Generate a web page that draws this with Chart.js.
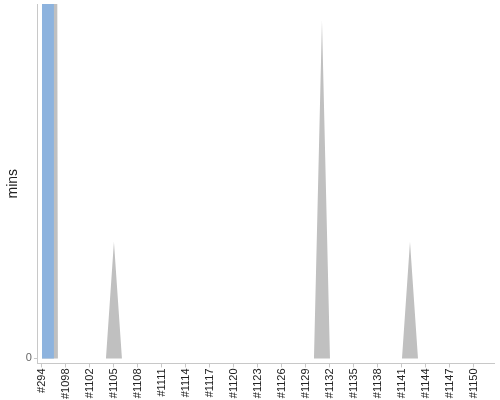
<!DOCTYPE html>
<html>
<head>
<meta charset="utf-8">
<title>mins per build</title>
<script src="https://cdn.jsdelivr.net/npm/chart.js@4.4.0/dist/chart.umd.min.js"></script>
<style>
  html, body { margin: 0; padding: 0; background: #fff; }
  #wrap { width: 500px; height: 400px; }
</style>
</head>
<body>
<div id="wrap"><canvas id="chart"></canvas></div>
<script>
// build ids along the x axis
const builds = [
  '#294', '#1096', '#1097', '#1098', '#1099', '#1101', '#1102', '#1103', '#1104', '#1105',
  '#1106', '#1107', '#1108', '#1109', '#1110', '#1111', '#1112', '#1113', '#1114', '#1115',
  '#1116', '#1117', '#1118', '#1119', '#1120', '#1121', '#1122', '#1123', '#1124', '#1125',
  '#1126', '#1127', '#1128', '#1129', '#1130', '#1131', '#1132', '#1133', '#1134', '#1135',
  '#1136', '#1137', '#1138', '#1139', '#1140', '#1141', '#1142', '#1143', '#1144', '#1145',
  '#1146', '#1147', '#1148', '#1149', '#1150', '#1151', '#1152'
];

// blue series (off the top of the scale for the first build)
const blueMins = [
  40, 40, 0, 0, 0, 0, 0, 0, 0, 0,
  0, 0, 0, 0, 0, 0, 0, 0, 0, 0,
  0, 0, 0, 0, 0, 0, 0, 0, 0, 0,
  0, 0, 0, 0, 0, 0, 0, 0, 0, 0,
  0, 0, 0, 0, 0, 0, 0, 0, 0, 0,
  0, 0, 0, 0, 0, 0, 0
];

// grey series
const greyMins = [
  40, 40, 0, 0, 0, 0, 0, 0, 0, 1,
  0, 0, 0, 0, 0, 0, 0, 0, 0, 0,
  0, 0, 0, 0, 0, 0, 0, 0, 0, 0,
  0, 0, 0, 0, 0, 2.9, 0, 0, 0, 0,
  0, 0, 0, 0, 0, 0, 1, 0, 0, 0,
  0, 0, 0, 0, 0, 0, 0
];

const yMin = -0.043;
const yMax = 3.04;
const yTicks = [0];

const FONT = 'Liberation Sans, Arial, sans-serif';

const ctx = document.getElementById('chart').getContext('2d');

new Chart(ctx, {
  type: 'line',
  data: {
    labels: builds,
    datasets: [
      {
        label: 'blue',
        data: blueMins,
        stepped: 'middle',
        fill: 'origin',
        backgroundColor: '#8db3de',
        borderWidth: 0,
        pointRadius: 0,
      },
      {
        label: 'grey',
        data: greyMins,
        tension: 0,
        fill: 'origin',
        backgroundColor: '#c0c0c0',
        borderWidth: 0,
        pointRadius: 0,
      },
    ],
  },
  options: {
    responsive: true,
    maintainAspectRatio: false,
    animation: false,
    layout: { padding: { top: 4, right: 6, left: 1, bottom: 0 } },
    plugins: {
      legend: { display: false },
      tooltip: { enabled: false },
    },
    scales: {
      x: {
        offset: true,
        afterFit: (scale) => {
          scale.paddingLeft = 0;
          scale.paddingRight = 0;
        },
        grid: {
          offset: false,
          drawOnChartArea: false,
          tickLength: 4,
          color: '#c8c8c8',
        },
        border: { color: '#c8c8c8' },
        ticks: {
          autoSkip: false,
          minRotation: 90,
          maxRotation: 90,
          padding: 1,
          color: '#222',
          font: { family: FONT, size: 11 },
          callback: (value, index) => (index % 3 === 0 ? builds[index] : null),
        },
      },
      y: {
        min: yMin,
        max: yMax,
        afterBuildTicks: (scale) => {
          scale.ticks = yTicks.map(v => ({ value: v }));
        },
        afterFit: (scale) => {
          scale.paddingTop = 0;
          scale.paddingBottom = 0;
        },
        grid: {
          drawOnChartArea: false,
          tickLength: 4,
          color: '#c8c8c8',
        },
        border: { color: '#c8c8c8' },
        ticks: {
          padding: 2,
          color: '#666',
          font: { family: FONT, size: 11 },
        },
        title: {
          display: true,
          text: 'mins',
          color: '#222',
          padding: { top: 4, bottom: 2 },
          font: { family: FONT, size: 14 },
        },
      },
    },
  },
});
</script>
</body>
</html>
